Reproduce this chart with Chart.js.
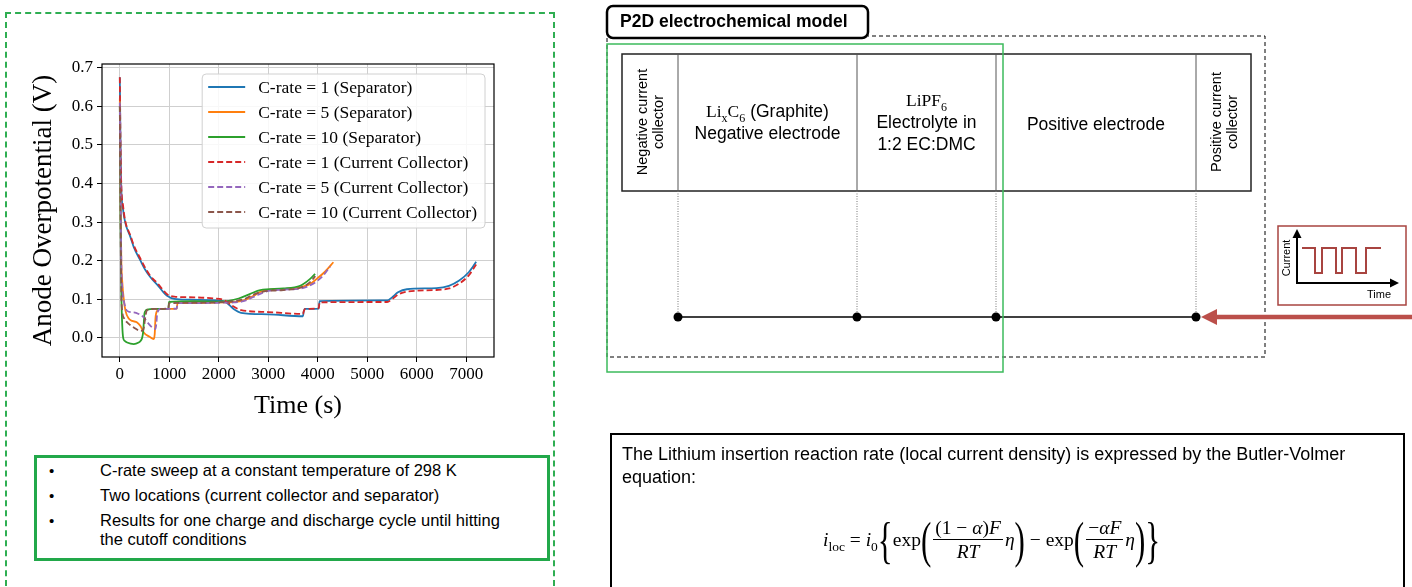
<!DOCTYPE html>
<html>
<head>
<meta charset="utf-8">
<script src="https://cdn.jsdelivr.net/npm/chart.js@4.4.1/dist/chart.umd.min.js"></script>
<style>
  body { margin: 0; background: #fff; }
  #page { position: relative; width: 1412px; height: 587px; overflow: hidden; font-family: "Liberation Sans", Arial, sans-serif; color: #000; }
  .abs { position: absolute; }
  sub { line-height: 0; font-size: 12px; }
  #leftFrame { left: 5px; top: 12px; width: 546px; height: 600px; border: 2px dashed #2fae52; }
  #chartBox { left: 0; top: 0; width: 560px; height: 430px; }
  #notes { left: 34px; top: 455px; width: 510px; height: 100px; border: 3px solid #22a84a; font-size: 16.5px; }
  .bul { position: absolute; left: 12px; font-size: 15px; }
  .btxt { position: absolute; left: 63px; line-height: 19px; }
  .cell { position: absolute; text-align: center; font-size: 17.5px; line-height: 22px; }
  .rot { position: absolute; font-size: 14.5px; line-height: 16px; text-align: center; white-space: nowrap; transform: translate(-50%, -50%) rotate(-90deg); }
  .ser { font-family: "Liberation Serif", "DejaVu Serif", serif; }
  #eqBox { left: 610px; top: 433px; width: 791px; height: 200px; border: 2.5px solid #000; }
  #eqText { position: absolute; left: 10px; top: 8px; font-size: 18px; line-height: 23px; }
  #eq { position: absolute; left: 211px; top: 81px; display: flex; align-items: center; font-family: "Liberation Serif", "DejaVu Serif", serif; font-size: 19.5px; white-space: nowrap; }
  .fr { display: inline-flex; flex-direction: column; align-items: center; margin: 0 2px; }
  .fr .n { padding: 0 2px; border-bottom: 1px solid #000; line-height: 23px; }
  .fr .d { line-height: 23px; font-style: italic; }
  .big { font-size: 31px; line-height: 40px; transform: scaleY(1.65); display: inline-block; font-family: "Liberation Serif", serif; }
  i { font-style: italic; }
</style>
</head>
<body>
<div id="page">
  <div id="leftFrame" class="abs"></div>
  <div id="chartBox" class="abs"><canvas id="myChart" width="560" height="430"></canvas></div>

  <div id="notes" class="abs">
    <div class="bul" style="top:4px">•</div><div class="btxt" style="top:3px">C-rate sweep at a constant temperature of 298 K</div>
    <div class="bul" style="top:29px">•</div><div class="btxt" style="top:28px">Two locations (current collector and separator)</div>
    <div class="bul" style="top:54px">•</div><div class="btxt" style="top:53px; width:410px">Results for one charge and discharge cycle until hitting the cutoff conditions</div>
  </div>

  <svg class="abs" style="left:0;top:0" width="1412" height="587">
    <path d="M607,38 V357 H1265 V36 H868" fill="none" stroke="#000" stroke-width="1" stroke-dasharray="4,3"/>
    <rect x="622" y="54" width="629" height="137" fill="none" stroke="#222" stroke-width="1.5"/>
    <g stroke="#555" stroke-width="1">
      <line x1="678" y1="54" x2="678" y2="191"/>
      <line x1="857" y1="54" x2="857" y2="191"/>
      <line x1="996" y1="54" x2="996" y2="191"/>
      <line x1="1196" y1="54" x2="1196" y2="191"/>
    </g>
    <g stroke="#777" stroke-width="1" stroke-dasharray="1,1.5">
      <line x1="678" y1="191" x2="678" y2="317"/>
      <line x1="857" y1="191" x2="857" y2="317"/>
      <line x1="996" y1="191" x2="996" y2="317"/>
      <line x1="1196" y1="191" x2="1196" y2="317"/>
    </g>
    <line x1="678" y1="317" x2="1196" y2="317" stroke="#000" stroke-width="1.5"/>
    <g fill="#000">
      <circle cx="678" cy="317" r="4.5"/><circle cx="857" cy="317" r="4.5"/>
      <circle cx="996" cy="317" r="4.5"/><circle cx="1196" cy="317" r="4.5"/>
    </g>
    <line x1="1412" y1="317" x2="1214" y2="317" stroke="#bb4f4a" stroke-width="4.5"/>
    <polygon points="1201,317 1217,309 1217,325" fill="#bb4f4a"/>
    <rect x="607" y="44" width="396" height="328" fill="none" stroke="#3dbb5c" stroke-width="1.5"/>
    <rect x="607" y="6" width="261" height="32" rx="6" fill="#fff" stroke="#000" stroke-width="2.5"/>
    <rect x="1278" y="226" width="128" height="79" fill="#fff" stroke="#a84440" stroke-width="1.5"/>
    <g stroke="#000" stroke-width="2" fill="none">
      <line x1="1297" y1="284" x2="1297" y2="236"/>
      <line x1="1296" y1="283" x2="1392" y2="283"/>
    </g>
    <polygon points="1297,229 1292.5,238 1301.5,238" fill="#000"/>
    <polygon points="1399,283 1390,278.5 1390,287.5" fill="#000"/>
    <path d="M1302,248 H1315 V273 H1322 V248 H1336 V273 H1342 V248 H1356 V273 H1366 V248 H1381" fill="none" stroke="#a84440" stroke-width="2"/>
  </svg>

  <div class="abs" style="left:620px; top:10px; font-size:17.5px; font-weight:bold; line-height:22px">P2D electrochemical model</div>

  <div class="rot" style="left:650px; top:122px">Negative current<br>collector</div>
  <div class="cell" style="left:678px; width:179px; top:100px"><span class="ser">Li<sub>x</sub>C<sub>6</sub></span> (Graphite)<br>Negative electrode</div>
  <div class="cell" style="left:857px; width:139px; top:89px"><span class="ser">LiPF<sub>6</sub></span><br>Electrolyte in<br>1:2 EC:DMC</div>
  <div class="cell" style="left:996px; width:200px; top:113px">Positive electrode</div>
  <div class="rot" style="left:1224px; top:122px">Positive current<br>collector</div>

  <div class="rot" style="left:1286px; top:258px; font-size:11px">Current</div>
  <div class="abs" style="left:1367px; top:288px; font-size:11px">Time</div>

  <div id="eqBox" class="abs">
    <div id="eqText">The Lithium insertion reaction rate (local current density) is expressed by the Butler-Volmer<br>equation:</div>
    <div id="eq">
      <span><i>i</i><sub style="font-size:13.5px">loc</sub>&nbsp;=&nbsp;<i>i</i><sub style="font-size:13.5px">0</sub></span>
      <span class="big">{</span><span>exp</span><span class="big">(</span>
      <span class="fr"><span class="n">(1 − <i>α</i>)<i>F</i></span><span class="d">RT</span></span><i>η</i>
      <span class="big">)</span><span>&nbsp;−&nbsp;exp</span><span class="big">(</span>
      <span class="fr"><span class="n">−<i>αF</i></span><span class="d">RT</span></span><i>η</i>
      <span class="big">)</span><span class="big">}</span>
    </div>
  </div>
</div>

<script>
// anode overpotential (V) vs time (s)
var sepC1 = [[0,0.675],[10,0.55],[27,0.4],[68,0.33],[115,0.296],[215,0.261],[282,0.235],[417,0.2],[520,0.175],[619,0.157],[754,0.138],[870,0.12],[955,0.109],[1100,0.101],[1400,0.099],[1800,0.098],[2000,0.097],[2150,0.092],[2300,0.075],[2450,0.065],[3000,0.061],[3700,0.056],[3715,0.068],[3740,0.075],[4020,0.076],[4035,0.095],[5400,0.097],[5500,0.105],[5620,0.118],[5800,0.126],[6400,0.129],[6650,0.135],[6850,0.148],[7050,0.17],[7200,0.197]];
var sepC5 = [[0,0.62],[15,0.35],[30,0.2],[48,0.148],[80,0.1],[115,0.07],[180,0.05],[250,0.044],[350,0.04],[420,0.03],[484,0.014],[600,0.003],[686,-0.003],[705,0.01],[720,0.05],[754,0.07],[800,0.075],[1150,0.076],[1165,0.09],[1500,0.091],[2000,0.092],[2300,0.093],[2500,0.097],[2702,0.109],[2850,0.12],[2971,0.124],[3300,0.127],[3643,0.131],[3850,0.14],[3979,0.153],[4150,0.172],[4315,0.196]];
var sepC10 = [[0,0.6],[15,0.3],[30,0.12],[50,0.03],[68,0.0],[100,-0.008],[148,-0.012],[282,-0.016],[380,-0.012],[417,-0.008],[450,0.0],[470,0.014],[485,0.04],[497,0.062],[520,0.07],[552,0.073],[700,0.075],[980,0.076],[995,0.093],[1500,0.095],[2000,0.094],[2200,0.096],[2400,0.102],[2635,0.114],[2837,0.124],[3307,0.128],[3643,0.135],[3845,0.153],[3945,0.166]];
var ccC1 = [[0,0.675],[10,0.55],[27,0.41],[68,0.34],[115,0.3],[215,0.265],[282,0.24],[417,0.205],[520,0.18],[619,0.16],[754,0.142],[870,0.125],[955,0.113],[1100,0.107],[1500,0.105],[1900,0.102],[2100,0.098],[2250,0.085],[2450,0.072],[3000,0.067],[3700,0.062],[3715,0.068],[3740,0.075],[4020,0.077],[4035,0.092],[5400,0.093],[5500,0.1],[5620,0.112],[5800,0.12],[6400,0.124],[6650,0.128],[6850,0.14],[7050,0.162],[7200,0.19]];
var ccC5 = [[0,0.61],[15,0.4],[30,0.2],[55,0.12],[81,0.096],[148,0.07],[282,0.066],[380,0.062],[484,0.053],[560,0.04],[653,0.027],[720,0.023],[740,0.04],[754,0.062],[820,0.075],[1150,0.076],[1165,0.09],[1500,0.09],[2000,0.091],[2300,0.092],[2500,0.095],[2700,0.106],[2950,0.12],[3300,0.125],[3650,0.128],[3900,0.14],[4100,0.16],[4250,0.185]];
var ccC10 = [[0,0.6],[15,0.3],[30,0.12],[48,0.07],[90,0.05],[148,0.04],[282,0.027],[417,0.018],[470,0.02],[490,0.03],[518,0.057],[552,0.072],[700,0.075],[980,0.076],[995,0.09],[1500,0.091],[2000,0.092],[2300,0.095],[2500,0.1],[2700,0.112],[2900,0.12],[3300,0.124],[3650,0.13],[3850,0.145],[3950,0.16]];

var labels = ['C-rate = 1 (Separator)', 'C-rate = 5 (Separator)', 'C-rate = 10 (Separator)',
              'C-rate = 1 (Current Collector)', 'C-rate = 5 (Current Collector)', 'C-rate = 10 (Current Collector)'];
var xTicks = [0, 1000, 2000, 3000, 4000, 5000, 6000, 7000];
var yTicks = [0, 0.1, 0.2, 0.3, 0.4, 0.5, 0.6, 0.7];

var colors = ['#1f77b4', '#ff7f0e', '#2ca02c', '#d62728', '#9467bd', '#8c564b'];
var series = [sepC1, sepC5, sepC10, ccC1, ccC5, ccC10];
var serif = '"Liberation Serif", "Times New Roman", serif';

function toPts(arr) {
  return arr.map(function (p) { return {x: p[0], y: p[1]}; });
}

var datasets = [];
for (var i = 0; i < series.length; i++) {
  datasets.push({
    label: labels[i],
    data: toPts(series[i]),
    borderColor: colors[i],
    backgroundColor: colors[i],
    borderWidth: 1.8,
    borderDash: i >= 3 ? [6, 3] : [],
    showLine: true,
    pointRadius: 0,
    cubicInterpolationMode: 'monotone',
    order: 6 - i
  });
}

// frame on all four sides + matplotlib style legend in the upper right
var framePlugin = {
  id: 'framePlugin',
  afterDatasetsDraw: function (chart) {
    var ctx = chart.ctx, a = chart.chartArea;
    ctx.save();
    ctx.strokeStyle = '#000';
    ctx.lineWidth = 1.2;
    ctx.strokeRect(a.left, a.top, a.right - a.left, a.bottom - a.top);

    ctx.font = '17.5px ' + serif;
    var w = 0;
    chart.data.datasets.forEach(function (d) { w = Math.max(w, ctx.measureText(d.label).width); });
    var boxW = 6 + 37 + 13 + w + 8;
    var right = a.right - 9, top = a.top + 10;
    var left = right - boxW, rowH = 25, boxH = rowH * 6 + 4;
    ctx.fillStyle = 'rgba(255,255,255,0.85)';
    ctx.strokeStyle = '#d0d0d0';
    ctx.lineWidth = 1;
    ctx.beginPath();
    ctx.roundRect(left, top, boxW, boxH, 4);
    ctx.fill();
    ctx.stroke();
    chart.data.datasets.forEach(function (d, k) {
      var y = top + 13 + k * rowH;
      ctx.strokeStyle = d.borderColor;
      ctx.lineWidth = 1.8;
      ctx.setLineDash(d.borderDash);
      ctx.beginPath();
      ctx.moveTo(left + 6, y);
      ctx.lineTo(left + 43, y);
      ctx.stroke();
      ctx.setLineDash([]);
      ctx.fillStyle = '#000';
      ctx.textBaseline = 'middle';
      ctx.fillText(d.label, left + 56, y + 1);
    });
    ctx.restore();
  }
};

var ctx = document.getElementById('myChart').getContext('2d');
var myChart = new Chart(ctx, {
  type: 'scatter',
  data: { datasets: datasets },
  plugins: [framePlugin],
  options: {
    responsive: false,
    animation: false,
    layout: { padding: { top: 64, right: 66, left: 0, bottom: 0 } },
    plugins: { legend: { display: false }, tooltip: { enabled: false } },
    scales: {
      x: {
        type: 'linear',
        min: -360,
        max: 7560,
        afterBuildTicks: function (scale) { scale.ticks = xTicks.map(function (v) { return {value: v}; }); },
        afterFit: function (scale) { scale.height = 73; },
        grid: { color: '#cfcfcf', lineWidth: 1, tickColor: '#000', tickLength: 5 },
        border: { display: false },
        ticks: { color: '#000', font: { family: serif, size: 17 }, padding: 2, maxRotation: 0, autoSkip: false,
                 callback: function (v) { return String(v); } },
        title: { display: true, text: 'Time (s)', color: '#000', font: { family: serif, size: 26, lineHeight: 1.2 },
                 padding: { top: 0, bottom: 8 } }
      },
      y: {
        type: 'linear',
        min: -0.0495,
        max: 0.7095,
        afterBuildTicks: function (scale) { scale.ticks = yTicks.map(function (v) { return {value: v}; }); },
        afterFit: function (scale) { scale.width = 102; },
        grid: { color: '#cfcfcf', lineWidth: 1, tickColor: '#000', tickLength: 5 },
        border: { display: false },
        ticks: { color: '#000', font: { family: serif, size: 17 }, padding: 4, autoSkip: false,
                 callback: function (v) { return v.toFixed(1); } },
        title: { display: true, text: 'Anode Overpotential (V)', color: '#000', font: { family: serif, size: 27, lineHeight: 1.2 },
                 padding: { top: 28, bottom: 0 } }
      }
    }
  }
});
</script>
</body>
</html>
